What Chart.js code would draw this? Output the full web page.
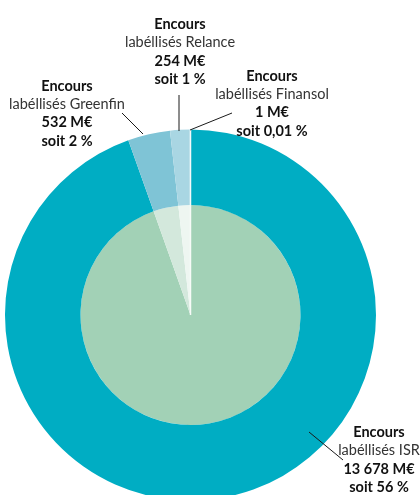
<!DOCTYPE html>
<html>
<head>
<meta charset="utf-8">
<script src="https://cdn.jsdelivr.net/npm/chart.js@4.4.0/dist/chart.umd.min.js"></script>
<style>
  html, body { margin: 0; padding: 0; background: #fff; }
  #wrap { width: 420px; height: 495px; position: relative; }
</style>
</head>
<body>
<div id="wrap"><canvas id="encoursChart" width="420" height="495"></canvas></div>
<script>
// categories and values (M€)
const labels = ['ISR', 'Greenfin', 'Relance', 'Finansol'];
const encours = [13678, 532, 254, 1];
const shares = ['56 %', '2 %', '1 %', '0,01 %'];
const amountLabels = ['13 678 M€', '532 M€', '254 M€', '1 M€'];

const outerColors = ['#00adc3', '#7fc4d6', '#a9d6e3', '#eef8fa'];
const innerColors = ['#a2d1b6', '#d3e8dc', '#eef6f1', '#ffffff'];

// callout texts: x, y of first line, line spacing, leader line
const callouts = [
  { i: 0, x: 379, y: 432, lh: 18.5, line: [309, 432, 343, 460] },
  { i: 1, x: 67, y: 86, lh: 18.3, line: [122, 113, 143, 134] },
  { i: 2, x: 180, y: 24, lh: 18.5, line: [179, 95, 179, 131] },
  { i: 3, x: 272, y: 76, lh: 18.3, line: [232, 113, 190, 130] }
];

const calloutPlugin = {
  id: 'callouts',
  afterDraw(chart) {
    const ctx = chart.ctx;
    ctx.save();
    ctx.strokeStyle = '#1a1a1a';
    ctx.lineWidth = 1;
    ctx.textAlign = 'center';
    ctx.textBaseline = 'middle';
    callouts.forEach((c) => {
      ctx.beginPath();
      ctx.moveTo(c.line[0], c.line[1]);
      ctx.lineTo(c.line[2], c.line[3]);
      ctx.stroke();
      const rows = [
        ['bold', 'Encours'],
        ['normal', 'labéllisés ' + labels[c.i]],
        ['bold', amountLabels[c.i]],
        ['bold', 'soit ' + shares[c.i]]
      ];
      rows.forEach((r, k) => {
        ctx.font = r[0] + ' 14.5px Lato';
        ctx.fillStyle = r[0] === 'bold' ? '#111' : '#333';
        ctx.fillText(r[1], c.x, c.y + k * c.lh);
      });
    });
    ctx.restore();
  }
};

new Chart(document.getElementById('encoursChart').getContext('2d'), {
  type: 'doughnut',
  data: {
    labels: labels,
    datasets: [
      {
        data: encours,
        backgroundColor: outerColors,
        borderColor: '#f4fafb',
        borderWidth: [0, 0, 0, 1.5],
        radius: 185.5,
        weight: 75.5
      },
      {
        data: encours,
        backgroundColor: innerColors,
        borderColor: '#f7fbf8',
        borderWidth: [0, 0, 0, 1.5],
        radius: 185.5,
        weight: 110
      }
    ]
  },
  options: {
    responsive: false,
    animation: false,
    cutout: 0,
    hoverOffset: 0,
    layout: { padding: { left: 5, right: 44, top: 135, bottom: 0 } },
    plugins: {
      legend: { display: false },
      tooltip: { enabled: false }
    }
  },
  plugins: [calloutPlugin]
});
</script>
</body>
</html>
